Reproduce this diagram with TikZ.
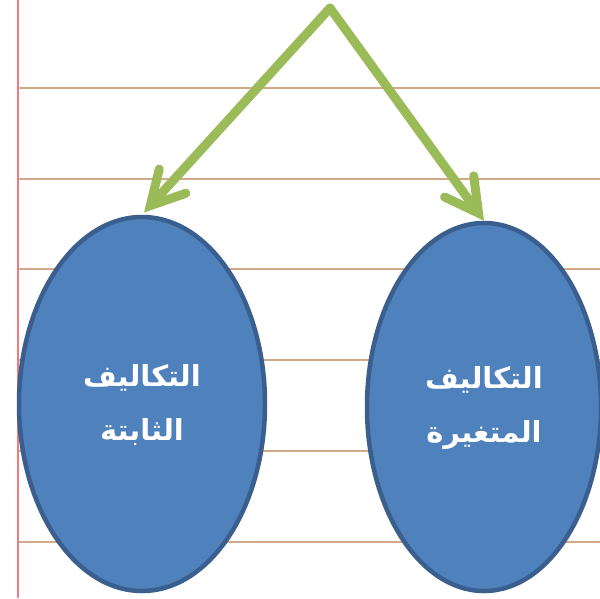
\documentclass[tikz,border=0pt]{standalone}
\usepackage{fontspec}
\newfontfamily\arabicfont[Script=Arabic]{DejaVu Sans}
\TeXXeTstate=1
\usetikzlibrary{arrows.meta,shapes.geometric}
\definecolor{rule}{HTML}{D4A98A}
\definecolor{margin}{HTML}{F47A80}
\definecolor{ellfill}{HTML}{4F81BD}
\definecolor{elldraw}{HTML}{3A5F8E}
\definecolor{arrgreen}{HTML}{9BBB59}
\tikzset{
  ruleline/.style={draw=rule, line width=1.8pt},
  cost/.style={ellipse, fill=ellfill, draw=elldraw, line width=4.5pt, inner sep=0pt},
  costtext/.style={text=white, font=\arabicfont\bfseries\fontsize{29}{54}\selectfont, align=center},
  garrow/.style={draw=arrgreen, line width=9pt, line cap=round, line join=round,
    -{Straight Barb[length=33pt, width=36pt, line cap=round]}},
}
\begin{document}
\begin{tikzpicture}[x=1pt, y=-1pt]
\useasboundingbox (0,0) rectangle (600,598);
\fill[white] (0,0) rectangle (600,598);
% ruled lines
\foreach \yy in {88,179,269,360,451,542} {
  \draw[ruleline] (18,\yy) -- (600,\yy);
}
\draw[margin, line width=2.4pt] (18,0) -- (18,598);
% ellipses
\node[cost, minimum width=246pt, minimum height=374pt] (fixed) at (142,404) {};
\node[cost, minimum width=234pt, minimum height=368pt] (var) at (484,407) {};
\node[costtext] (fixedt) at (142,405) {\beginR التكاليف\endR\\\beginR الثابتة\endR};
\node[costtext] (vart) at (484,408) {\beginR التكاليف\endR\\\beginR المتغيرة\endR};
% arrows
\coordinate (apex) at (330,8);
\draw[garrow, shorten >=3pt] (apex) -- (fixed.north);
\draw[garrow] (apex) -- (var.north);
\end{tikzpicture}
\end{document}
